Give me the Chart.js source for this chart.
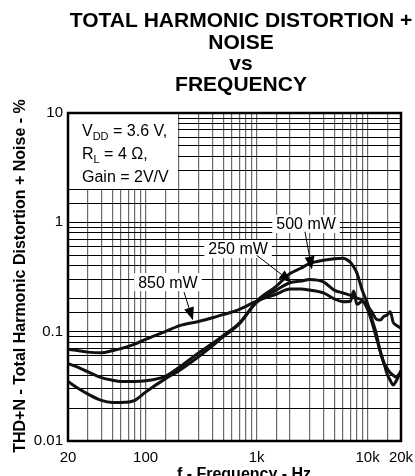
<!DOCTYPE html>
<html>
<head>
<meta charset="utf-8">
<script src="https://cdn.jsdelivr.net/npm/chart.js@4.4.1/dist/chart.umd.min.js"></script>
<style>
    html, body { margin: 0; padding: 0; background: #fff; }
    #wrap { width: 415px; height: 476px; }
</style>
</head>
<body>
<div id="wrap"><canvas id="thdChart" width="415" height="476"></canvas></div>
<script>
// values
const freqHz = [20, 25, 30, 40, 50, 60, 80, 100, 150, 200, 300, 400, 500, 700, 1000, 1500, 2000, 2500, 3000, 4000, 5000, 6000, 7000, 7500, 8000, 9000, 10000, 11000, 12000, 13000, 14000, 15000, 16000, 17000, 18000, 20000];
const thd850mW = [0.069, 0.067, 0.065, 0.064, 0.067, 0.070, 0.077, 0.085, 0.100, 0.113, 0.124, 0.134, 0.143, 0.160, 0.190, 0.220, 0.245, 0.245, 0.240, 0.226, 0.200, 0.188, 0.190, 0.235, 0.178, 0.190, 0.172, 0.150, 0.130, 0.128, 0.138, 0.142, 0.152, 0.122, 0.115, 0.108];
const thd250mW = [0.051, 0.047, 0.043, 0.038, 0.036, 0.035, 0.035, 0.0355, 0.039, 0.047, 0.064, 0.078, 0.092, 0.120, 0.185, 0.240, 0.280, 0.290, 0.300, 0.285, 0.240, 0.226, 0.215, 0.210, 0.203, 0.193, 0.160, 0.120, 0.088, 0.066, 0.052, 0.046, 0.042, 0.040, 0.0385, 0.043];
const thd500mW = [0.035, 0.030, 0.027, 0.0235, 0.0225, 0.0225, 0.0235, 0.028, 0.037, 0.044, 0.059, 0.074, 0.090, 0.118, 0.190, 0.260, 0.340, 0.380, 0.420, 0.450, 0.465, 0.470, 0.430, 0.390, 0.345, 0.235, 0.180, 0.128, 0.095, 0.066, 0.052, 0.041, 0.036, 0.0325, 0.035, 0.044];

const xTickLabels = { 20: '20', 100: '100', 1000: '1k', 10000: '10k', 20000: '20k' };
const yTickLabels = ['0.01', '0.1', '1', '10'];

const titleLines = ['TOTAL HARMONIC DISTORTION +', 'NOISE', 'vs', 'FREQUENCY'];

// callouts: label text, label centre (Hz, %), arrow tail and tip (Hz, %)
const callouts = [
    { text: '850 mW', at: [159, 0.284], from: [222, 0.23], to: [267, 0.127] },
    { text: '250 mW', at: [681, 0.57], from: [1000, 0.5], to: [2080, 0.282] },
    { text: '500 mW', at: [2790, 0.966], from: [2730, 0.82], to: [3150, 0.37] }
];

const FONT = "'Liberation Sans', Arial, Helvetica, sans-serif";

function toPoints(values) {
    return freqHz.map((f, i) => ({ x: f, y: values[i] }));
}

function isDecade(v) {
    const l = Math.log10(v);
    return Math.abs(l - Math.round(l)) < 1e-6;
}

function drawArrow(ctx, x1, y1, x2, y2) {
    const ang = Math.atan2(y2 - y1, x2 - x1);
    const len = 13, half = 5;
    ctx.strokeStyle = '#000';
    ctx.lineWidth = 1;
    ctx.beginPath();
    ctx.moveTo(x1, y1);
    ctx.lineTo(x2 - Math.cos(ang) * len, y2 - Math.sin(ang) * len);
    ctx.stroke();
    ctx.fillStyle = '#000';
    ctx.beginPath();
    ctx.moveTo(x2, y2);
    ctx.lineTo(x2 - Math.cos(ang) * len - Math.sin(ang) * half, y2 - Math.sin(ang) * len + Math.cos(ang) * half);
    ctx.lineTo(x2 - Math.cos(ang) * len + Math.sin(ang) * half, y2 - Math.sin(ang) * len - Math.cos(ang) * half);
    ctx.closePath();
    ctx.fill();
}

const decorations = {
    id: 'decorations',
    beforeDatasetsDraw(chart) {
        const ctx = chart.ctx;
        const area = chart.chartArea;
        const xs = chart.scales.x, ys = chart.scales.y;
        ctx.save();

        // conditions box, covers the grid
        ctx.fillStyle = '#fff';
        ctx.fillRect(area.left, area.top, 110, 76);
        ctx.fillStyle = '#000';
        ctx.textBaseline = 'alphabetic';
        ctx.textAlign = 'left';
        let x = area.left + 14;
        ctx.font = '16px ' + FONT;
        ctx.fillText('V', x, area.top + 23);
        x += ctx.measureText('V').width;
        ctx.font = '11px ' + FONT;
        ctx.fillText('DD', x, area.top + 27);
        x += ctx.measureText('DD').width;
        ctx.font = '16px ' + FONT;
        ctx.fillText(' = 3.6 V,', x, area.top + 23);

        x = area.left + 14;
        ctx.fillText('R', x, area.top + 46);
        x += ctx.measureText('R').width;
        ctx.font = '11px ' + FONT;
        ctx.fillText('L', x, area.top + 50);
        x += ctx.measureText('L').width;
        ctx.font = '16px ' + FONT;
        ctx.fillText(' = 4 \u03A9,', x, area.top + 46);

        ctx.fillText('Gain = 2V/V', area.left + 14, area.top + 69);

        // callout labels on white
        ctx.font = '16px ' + FONT;
        ctx.textAlign = 'center';
        ctx.textBaseline = 'middle';
        callouts.forEach(c => {
            const px = xs.getPixelForValue(c.at[0]);
            const py = ys.getPixelForValue(c.at[1]);
            const w = ctx.measureText(c.text).width + 8;
            ctx.fillStyle = '#fff';
            ctx.fillRect(px - w / 2, py - 9, w, 18);
            ctx.fillStyle = '#000';
            ctx.fillText(c.text, px, py + 1);
        });
        ctx.restore();
    },
    afterDatasetsDraw(chart) {
        const ctx = chart.ctx;
        const xs = chart.scales.x, ys = chart.scales.y;
        ctx.save();
        callouts.forEach(c => {
            drawArrow(ctx,
                xs.getPixelForValue(c.from[0]), ys.getPixelForValue(c.from[1]),
                xs.getPixelForValue(c.to[0]), ys.getPixelForValue(c.to[1]));
        });
        ctx.restore();
    },
    afterDraw(chart) {
        const ctx = chart.ctx;
        const area = chart.chartArea;
        ctx.save();
        // plot frame
        ctx.strokeStyle = '#000';
        ctx.lineWidth = 2.5;
        ctx.strokeRect(area.left, area.top, area.right - area.left, area.bottom - area.top);

        // title
        ctx.fillStyle = '#000';
        ctx.font = 'bold 21px ' + FONT;
        ctx.textAlign = 'center';
        ctx.textBaseline = 'alphabetic';
        const baselines = [27, 49, 70, 91];
        titleLines.forEach((t, i) => ctx.fillText(t, 241, baselines[i]));

        // axis titles
        ctx.font = 'bold 16px ' + FONT;
        ctx.textBaseline = 'middle';
        ctx.fillText('f - Frequency - Hz', 244, 475);
        ctx.translate(21, 276);
        ctx.rotate(-Math.PI / 2);
        ctx.fillText('THD+N - Total Harmonic Distortion + Noise - %', 0, 0);
        ctx.restore();
    }
};

const lineStyle = {
    borderColor: '#111',
    borderWidth: 3,
    pointRadius: 0,
    fill: false,
    cubicInterpolationMode: 'monotone'
};

new Chart(document.getElementById('thdChart'), {
    type: 'line',
    data: {
        datasets: [
            { label: '850 mW', data: toPoints(thd850mW), ...lineStyle },
            { label: '250 mW', data: toPoints(thd250mW), ...lineStyle },
            { label: '500 mW', data: toPoints(thd500mW), ...lineStyle }
        ]
    },
    options: {
        responsive: false,
        animation: false,
        devicePixelRatio: 1,
        layout: { padding: { top: 113, right: 14, left: 0, bottom: 0 } },
        plugins: {
            legend: { display: false },
            tooltip: { enabled: false },
            title: { display: false }
        },
        scales: {
            x: {
                type: 'logarithmic',
                min: 20,
                max: 20000,
                border: { display: false },
                grid: { color: '#6a6a6a', lineWidth: 1.2, drawTicks: false },
                ticks: {
                    autoSkip: false,
                    maxRotation: 0,
                    padding: 8,
                    color: '#000',
                    font: { family: FONT, size: 15 },
                    callback: (v) => xTickLabels[Math.round(v)] || ''
                },
                afterFit: (scale) => {
                    scale.height = 35;
                    scale.paddingLeft = 0;
                    scale.paddingRight = 0;
                }
            },
            y: {
                type: 'logarithmic',
                min: 0.01,
                max: 10,
                border: { display: false },
                grid: { color: '#000', lineWidth: 1, drawTicks: false },
                ticks: {
                    autoSkip: false,
                    padding: 5,
                    color: '#000',
                    font: { family: FONT, size: 15 },
                    callback: (v) => {
                        if (!isDecade(v)) return '';
                        return yTickLabels[Math.round(Math.log10(v)) + 2];
                    }
                },
                afterFit: (scale) => {
                    scale.width = 68;
                    scale.paddingTop = 0;
                    scale.paddingBottom = 0;
                }
            }
        }
    },
    plugins: [decorations]
});
</script>
</body>
</html>
